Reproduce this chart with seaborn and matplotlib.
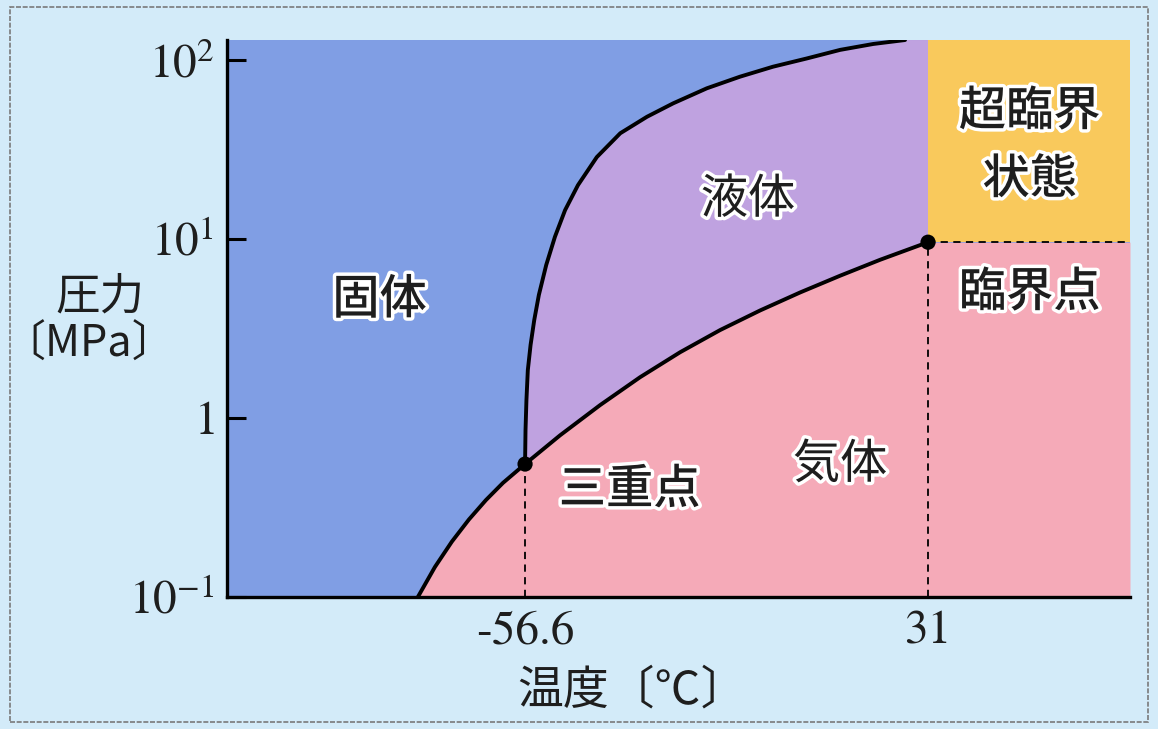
import numpy as np
import pandas as pd
import matplotlib
matplotlib.use("Agg")
import matplotlib.pyplot as plt
import matplotlib.patheffects as pe
from matplotlib.patches import Rectangle
from matplotlib.ticker import FixedLocator, FixedFormatter, NullLocator
import seaborn as sns

# phase boundary points (temperature in C, pressure in MPa)
subl_t = [-79.9, -76.2, -72.5, -68.8, -65.1, -61.4, -56.6]
subl_p = [0.1, 0.147, 0.204, 0.271, 0.348, 0.434, 0.553]

fusion_t = [-56.6, -56.5, -56.3, -56.0, -55.4, -54.6, -53.6, -52.0, -50.1, -47.9,
            -45.1, -41.0, -35.9, -30.1, -24.4, -17.1, -9.9, -2.7, 4.6, 11.9,
            19.1, 26.0]
fusion_p = [0.553, 0.857, 1.26, 1.85, 2.56, 3.53, 4.87, 7.16, 10.3, 14.5,
            20.0, 28.7, 39.0, 48.2, 57.3, 69.5, 80.7, 91.8, 102, 114,
            123, 129.4]

vapor_t = [-56.6, -49.0, -40.3, -31.6, -22.9, -14.2, -5.5, 3.2, 11.9, 20.6, 31.0]
vapor_p = [0.553, 0.80, 1.18, 1.69, 2.33, 3.10, 3.99, 5.03, 6.24, 7.66, 9.6]

triple = (-56.6, 0.553)
critical = (31.0, 9.6)

t_min, t_max = -121.4, 74.9
p_min, p_max = 0.1, 129.4

y_ticks = [0.1, 1, 10, 100]
y_tick_labels = [r"$10^{-1}$", r"$1$", r"$10^{1}$", r"$10^{2}$"]
x_ticks = [-56.6, 31]
x_tick_labels = ["-56.6", "31"]

sns.set_theme(style="white")
plt.rcParams["font.family"] = ["Noto Sans CJK JP", "DejaVu Sans"]
plt.rcParams["mathtext.fontset"] = "stix"

c_bg = "#d3ebf9"
c_solid = "#809ee4"
c_liquid = "#bfa2e0"
c_gas = "#f5aab8"
c_super = "#f9c95c"
c_text = "#1e1e1e"

fig = plt.figure(figsize=(11.58, 7.29), dpi=100, facecolor=c_bg)
ax = fig.add_axes([0.196, 0.1811, 0.7798, 0.764])
ax.set_facecolor(c_solid)
ax.set_yscale("log")
ax.set_xlim(t_min, t_max)
ax.set_ylim(p_min, p_max)

# gas region: below sublimation + vapour curves, then below critical pressure
gas_t = subl_t + vapor_t[1:] + [t_max]
gas_p = subl_p + vapor_p[1:] + [critical[1]]
ax.fill_between(gas_t, p_min, gas_p, color=c_gas, lw=0)

# liquid region
liq_t = fusion_t + [critical[0], critical[0]] + vapor_t[::-1]
liq_p = fusion_p + [p_max, critical[1]] + vapor_p[::-1]
ax.fill(liq_t, liq_p, color=c_liquid, lw=0)

# supercritical region
ax.fill_between([critical[0], t_max], critical[1], p_max, color=c_super, lw=0)

# dashed guide lines
dash = dict(color="black", lw=1.3, ls=(0, (4, 3)))
ax.plot([triple[0], triple[0]], [p_min, triple[1]], **dash)
ax.plot([critical[0], critical[0]], [p_min, critical[1]], **dash)
ax.plot([critical[0], t_max], [critical[1], critical[1]], **dash)

# phase boundaries
for tt, pp in [(subl_t, subl_p), (fusion_t, fusion_p), (vapor_t, vapor_p)]:
    sns.lineplot(x=tt, y=pp, sort=False, color="black", lw=2.8, ax=ax,
                 solid_capstyle="round", solid_joinstyle="round")

pts = pd.DataFrame({"t": [triple[0], critical[0]], "p": [triple[1], critical[1]]})
sns.scatterplot(data=pts, x="t", y="p", color="black", s=120, edgecolor="none",
                ax=ax, zorder=5, clip_on=False)

# axes styling
for side in ["top", "right"]:
    ax.spines[side].set_visible(False)
for side in ["left", "bottom"]:
    ax.spines[side].set_color("black")
    ax.spines[side].set_linewidth(2.4)

ax.yaxis.set_major_locator(FixedLocator(y_ticks))
ax.yaxis.set_major_formatter(FixedFormatter(y_tick_labels))
ax.yaxis.set_minor_locator(NullLocator())
ax.set_xticks(x_ticks)
ax.set_xticklabels(x_tick_labels)
ax.tick_params(axis="y", direction="in", length=14, width=2.2, color="black",
               pad=9, labelsize=34, left=True)
ax.tick_params(axis="x", length=0, pad=10, labelsize=34)
for lab in ax.get_xticklabels() + ax.get_yticklabels():
    lab.set_fontfamily("STIXGeneral")
    lab.set_color(c_text)
ax.set_xlabel("")
ax.set_ylabel("")

# axis titles
fig.text(0.086, 0.593, "圧力", fontsize=32, ha="center", va="center", color=c_text)
fig.text(0.077, 0.527, "〔MPa〕", fontsize=31, ha="center", va="center", color=c_text)
fig.text(0.546, 0.053, "温度〔℃〕", fontsize=33, ha="center", va="center", color=c_text)

# phase labels
outline = [pe.withStroke(linewidth=5, foreground="white")]
labels = [
    ("固体", 0.169, 0.533, "medium"),
    ("液体", 0.577, 0.713, "normal"),
    ("三重点", 0.446, 0.192, "medium"),
    ("気体", 0.679, 0.237, "normal"),
    ("超臨界", 0.889, 0.871, "medium"),
    ("状態", 0.889, 0.749, "medium"),
    ("臨界点", 0.889, 0.546, "medium"),
]
for txt, fx, fy, wt in labels:
    ax.text(fx, fy, txt, transform=ax.transAxes, fontsize=34, ha="center", va="center",
            color=c_text, weight=wt, path_effects=outline, zorder=6)

# dashed frame around the figure
fig.patches.append(Rectangle((0.009, 0.009), 0.982, 0.982, transform=fig.transFigure,
                             fill=False, edgecolor="#7a7a7a", lw=1.2, ls=(0, (3, 1))))

fig.savefig("out.png", dpi=100, facecolor=c_bg)
